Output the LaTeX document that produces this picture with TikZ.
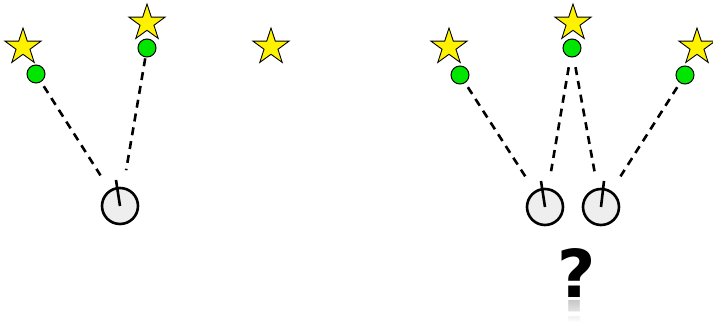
\documentclass[tikz,border=0pt]{standalone}
\usepackage{fontspec}
\newfontfamily\qfont{DejaVu Sans}
\usetikzlibrary{
    shapes.geometric,
    fadings
}
\definecolor{dotgreen}{RGB}{0,230,0}
\definecolor{robotgray}{RGB}{238,238,238}

\begin{document}
\begin{tikzpicture}[
    x=1pt, y=-1pt,
    landmark/.style={
        star,
        star points=5,
        star point ratio=2.6,
        minimum size=38pt,
        inner sep=0pt,
        draw=black,
        line width=0.9pt,
        fill=yellow
    },
    seen/.style={
        circle,
        minimum size=18pt,
        inner sep=0pt,
        draw=black,
        line width=1pt,
        fill=dotgreen
    },
    robot/.style={
        circle,
        minimum size=36pt,
        inner sep=0pt,
        draw=black,
        line width=2.6pt,
        fill=robotgray
    },
    heading/.style={draw, line width=2.6pt},
    sight/.style={draw, line width=2.6pt, dash pattern=on 8pt off 6pt, shorten >=17pt},
    qmark/.style={font=\qfont\bfseries\fontsize{66}{66}\selectfont, inner sep=0pt}
]
\useasboundingbox (0,0) rectangle (713,326);

% Left: one robot
\node[landmark] (s1) at (23,47) {};
\node[landmark] (s2) at (147,23) {};
\node[landmark] (s3) at (271,47) {};
\node[seen] (g1) at (36,74) {};
\node[seen] (g2) at (147,48) {};

\node[robot] (r1) at (120,206) {};
\coordinate (h1) at (116,180);
\draw[heading] (r1.center) -- (h1);

\draw[sight, shorten <=5pt] (g1) -- (r1);
\draw[sight, shorten <=1pt] (g2) -- (r1);

% Right: two robots
\node[landmark] (s4) at (449,47) {};
\node[landmark] (s5) at (573,23) {};
\node[landmark] (s6) at (697,47) {};
\node[seen] (g4) at (460,75) {};
\node[seen] (g5) at (572,48) {};
\node[seen] (g6) at (685,75) {};

\node[robot] (rA) at (545,207) {};
\node[robot] (rB) at (601,207) {};
\coordinate (hA) at (541,181);
\coordinate (hB) at (604,181);
\draw[heading] (rA.center) -- (hA);
\draw[heading] (rB.center) -- (hB);

\draw[sight, shorten <=5pt] (g4) -- (rA);
\draw[sight, shorten <=10pt] (g5) -- (rA);
\draw[sight, shorten <=10pt] (g5) -- (rB);
\draw[sight, shorten <=5pt] (g6) -- (rB);

% Which robot?
\node[qmark, anchor=base] (q) at (577,297) {?};
\begin{scope}
    \clip (550,300) rectangle (605,321);
    \node[qmark, anchor=base, yscale=-1, text=black!22] (qr) at (577,301) {?};
    \fill[white, path fading=north] (550,300) rectangle (605,322);
\end{scope}

\end{tikzpicture}
\end{document}
